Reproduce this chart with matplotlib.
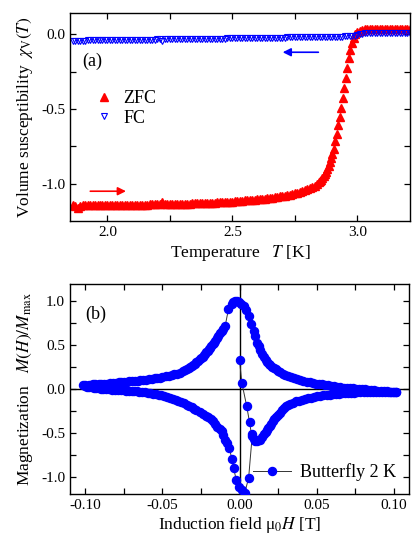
import numpy as np
import matplotlib
matplotlib.use('Agg')
import matplotlib.pyplot as plt
from matplotlib.ticker import FormatStrFormatter

plt.rcParams['font.family'] = ['Liberation Serif', 'DejaVu Serif']
plt.rcParams['mathtext.fontset'] = 'stix'
plt.rcParams['axes.unicode_minus'] = False

# ---- panel (a): susceptibility vs temperature ----
T_zfc = [1.86, 1.87, 1.88, 1.89, 1.90, 1.91, 1.92, 1.93, 1.94, 1.95,
         1.96, 1.97, 1.98, 1.99, 2.00, 2.01, 2.02, 2.03, 2.04, 2.05,
         2.06, 2.07, 2.08, 2.09, 2.10, 2.11, 2.12, 2.13, 2.14, 2.15,
         2.16, 2.17, 2.18, 2.19, 2.20, 2.21, 2.22, 2.23, 2.24, 2.25,
         2.26, 2.27, 2.28, 2.29, 2.30, 2.31, 2.32, 2.33, 2.34, 2.35,
         2.36, 2.37, 2.38, 2.39, 2.40, 2.41, 2.42, 2.43, 2.44, 2.45,
         2.46, 2.47, 2.48, 2.49, 2.50, 2.51, 2.52, 2.53, 2.54, 2.55,
         2.56, 2.57, 2.58, 2.59, 2.60, 2.61, 2.62, 2.63, 2.64, 2.65,
         2.66, 2.67, 2.68, 2.69, 2.70, 2.71, 2.72, 2.73, 2.74, 2.75,
         2.76, 2.77, 2.78, 2.79, 2.80, 2.81, 2.82, 2.83, 2.84, 2.845,
         2.85, 2.855, 2.86, 2.865, 2.87, 2.875, 2.88, 2.885, 2.89, 2.895,
         2.90, 2.905, 2.912, 2.918, 2.924, 2.930, 2.936, 2.942, 2.948, 2.954,
         2.960, 2.966, 2.972, 2.978, 2.985, 2.992, 3.00, 3.01, 3.02, 3.03,
         3.04, 3.05, 3.06, 3.07, 3.08, 3.09, 3.10, 3.11, 3.12, 3.13,
         3.14, 3.15, 3.16, 3.17, 3.18, 3.19, 3.20, 3.21]
chi_zfc = [-1.145, -1.150, -1.160, -1.150, -1.145, -1.140, -1.140, -1.140, -1.140, -1.140,
           -1.140, -1.140, -1.140, -1.140, -1.140, -1.140, -1.140, -1.140, -1.140, -1.140,
           -1.140, -1.140, -1.140, -1.140, -1.140, -1.140, -1.140, -1.140, -1.139, -1.139,
           -1.139, -1.138, -1.138, -1.138, -1.138, -1.138, -1.125, -1.136, -1.136, -1.136,
           -1.135, -1.135, -1.135, -1.134, -1.134, -1.134, -1.133, -1.133, -1.132, -1.132,
           -1.131, -1.131, -1.130, -1.129, -1.129, -1.128, -1.127, -1.126, -1.125, -1.124,
           -1.123, -1.122, -1.121, -1.120, -1.119, -1.118, -1.117, -1.115, -1.114, -1.112,
           -1.111, -1.109, -1.108, -1.106, -1.105, -1.103, -1.101, -1.099, -1.097, -1.095,
           -1.093, -1.091, -1.088, -1.085, -1.082, -1.079, -1.076, -1.073, -1.069, -1.065,
           -1.060, -1.055, -1.050, -1.044, -1.038, -1.030, -1.022, -1.012, -1.000, -0.990,
           -0.982, -0.975, -0.963, -0.950, -0.936, -0.920, -0.901, -0.880, -0.856, -0.830,
           -0.800, -0.770, -0.715, -0.665, -0.610, -0.550, -0.490, -0.425, -0.360, -0.290,
           -0.225, -0.160, -0.105, -0.060, -0.025, 0.000, 0.015, 0.025, 0.032, 0.035,
           0.036, 0.036, 0.036, 0.036, 0.036, 0.036, 0.036, 0.036, 0.036, 0.036,
           0.036, 0.036, 0.036, 0.036, 0.036, 0.036, 0.036, 0.036]

T_fc = [1.86, 1.87, 1.88, 1.89, 1.90, 1.91, 1.92, 1.93, 1.94, 1.95,
        1.96, 1.97, 1.98, 1.99, 2.00, 2.01, 2.02, 2.03, 2.04, 2.05,
        2.06, 2.07, 2.08, 2.09, 2.10, 2.11, 2.12, 2.13, 2.14, 2.15,
        2.16, 2.17, 2.18, 2.19, 2.20, 2.21, 2.22, 2.23, 2.24, 2.25,
        2.26, 2.27, 2.28, 2.29, 2.30, 2.31, 2.32, 2.33, 2.34, 2.35,
        2.36, 2.37, 2.38, 2.39, 2.40, 2.41, 2.42, 2.43, 2.44, 2.45,
        2.46, 2.47, 2.48, 2.49, 2.50, 2.51, 2.52, 2.53, 2.54, 2.55,
        2.56, 2.57, 2.58, 2.59, 2.60, 2.61, 2.62, 2.63, 2.64, 2.65,
        2.66, 2.67, 2.68, 2.69, 2.70, 2.71, 2.72, 2.73, 2.74, 2.75,
        2.76, 2.77, 2.78, 2.79, 2.80, 2.81, 2.82, 2.83, 2.84, 2.85,
        2.86, 2.87, 2.88, 2.89, 2.90, 2.91, 2.92, 2.93, 2.94, 2.95,
        2.96, 2.97, 2.98, 2.99, 3.00, 3.01, 3.02, 3.03, 3.04, 3.05,
        3.06, 3.07, 3.08, 3.09, 3.10, 3.11, 3.12, 3.13, 3.14, 3.15,
        3.16, 3.17, 3.18, 3.19, 3.20, 3.21]
chi_fc = [-0.043, -0.043, -0.042, -0.042, -0.042, -0.042, -0.041, -0.041, -0.041, -0.041,
          -0.040, -0.040, -0.040, -0.040, -0.039, -0.039, -0.039, -0.039, -0.038, -0.038,
          -0.038, -0.038, -0.037, -0.037, -0.037, -0.037, -0.036, -0.036, -0.036, -0.036,
          -0.035, -0.035, -0.035, -0.035, -0.034, -0.034, -0.048, -0.034, -0.033, -0.033,
          -0.033, -0.033, -0.032, -0.032, -0.032, -0.032, -0.031, -0.031, -0.031, -0.031,
          -0.030, -0.030, -0.030, -0.030, -0.029, -0.029, -0.029, -0.029, -0.028, -0.028,
          -0.028, -0.028, -0.027, -0.027, -0.027, -0.027, -0.026, -0.026, -0.026, -0.026,
          -0.025, -0.025, -0.025, -0.025, -0.024, -0.024, -0.024, -0.024, -0.023, -0.023,
          -0.023, -0.023, -0.022, -0.022, -0.022, -0.022, -0.021, -0.021, -0.021, -0.021,
          -0.020, -0.020, -0.020, -0.020, -0.019, -0.019, -0.019, -0.019, -0.018, -0.018,
          -0.018, -0.018, -0.017, -0.017, -0.017, -0.016, -0.016, -0.015, -0.015, -0.014,
          -0.013, -0.012, -0.010, -0.008, -0.005, -0.001, 0.003, 0.006, 0.008, 0.008,
          0.008, 0.008, 0.008, 0.008, 0.008, 0.008, 0.008, 0.008, 0.008, 0.008,
          0.008, 0.008, 0.008, 0.008, 0.008, 0.008]

# ---- panel (b): butterfly loop, branches in measurement order ----
H_virgin = [0.0000, 0.0015, 0.0046, 0.0065, 0.0078, 0.0092]
M_virgin = [0.33, 0.07, -0.19, -0.38, -0.52, -0.57]

H_low_right = [0.0102, 0.0115, 0.0130, 0.0145, 0.0160, 0.0170, 0.0178, 0.0187, 0.0195, 0.0205,
               0.0215, 0.0225, 0.0235, 0.0247, 0.0260, 0.0273, 0.0286, 0.0300, 0.0315, 0.0330,
               0.0345, 0.0365, 0.0385, 0.0405, 0.0425, 0.0445, 0.0465, 0.0485, 0.0505, 0.0525,
               0.0545, 0.0565, 0.0585, 0.0605, 0.0625, 0.0645, 0.0665, 0.0685, 0.0705, 0.0725,
               0.0745, 0.0765, 0.0785, 0.0805, 0.0825, 0.0845, 0.0865, 0.0885, 0.0905, 0.0925,
               0.0945, 0.0965, 0.0985, 0.1005, 0.1015]
M_low_right = [-0.59, -0.60, -0.58, -0.55, -0.51, -0.49, -0.47, -0.445, -0.42, -0.395,
               -0.37, -0.345, -0.32, -0.295, -0.27, -0.243, -0.215, -0.197, -0.18, -0.167,
               -0.155, -0.143, -0.133, -0.123, -0.114, -0.106, -0.098, -0.091, -0.085, -0.079,
               -0.074, -0.069, -0.064, -0.060, -0.057, -0.054, -0.051, -0.048, -0.046, -0.044,
               -0.042, -0.040, -0.039, -0.038, -0.037, -0.036, -0.036, -0.035, -0.035, -0.035,
               -0.035, -0.035, -0.035, -0.035, -0.034]

H_up_right = [0.1015, 0.0995, 0.0975, 0.0955, 0.0935, 0.0915, 0.0895, 0.0875, 0.0855, 0.0835,
              0.0815, 0.0795, 0.0775, 0.0755, 0.0735, 0.0715, 0.0695, 0.0675, 0.0655, 0.0635,
              0.0615, 0.0595, 0.0575, 0.0555, 0.0535, 0.0515, 0.0495, 0.0475, 0.0455, 0.0435,
              0.0415, 0.0395, 0.0375, 0.0355, 0.0335, 0.0315, 0.0295, 0.0280, 0.0265, 0.0250,
              0.0237, 0.0225, 0.0212, 0.0200, 0.0190, 0.0180, 0.0170, 0.0160, 0.0146, 0.0135,
              0.0124, 0.0113, 0.0100, 0.0091, 0.0073, 0.0059, 0.0042, 0.0026, 0.0012]
M_up_right = [-0.034, -0.032, -0.030, -0.028, -0.026, -0.023, -0.020, -0.017, -0.013, -0.009,
              -0.006, -0.002, 0.002, 0.005, 0.008, 0.010, 0.013, 0.016, 0.021, 0.026,
              0.031, 0.036, 0.042, 0.047, 0.052, 0.057, 0.062, 0.067, 0.074, 0.082,
              0.091, 0.100, 0.110, 0.121, 0.134, 0.147, 0.160, 0.175, 0.192, 0.210,
              0.225, 0.240, 0.255, 0.270, 0.290, 0.310, 0.335, 0.360, 0.400, 0.450,
              0.490, 0.530, 0.600, 0.660, 0.740, 0.830, 0.900, 0.950, 0.970]

H_up_left = [-0.0005, -0.0017, -0.0030, -0.0040, -0.0052, -0.0072, -0.0093, -0.0104, -0.0115, -0.0126,
             -0.0137, -0.0148, -0.0158, -0.0166, -0.0174, -0.0182, -0.0190, -0.0198, -0.0206, -0.0215,
             -0.0223, -0.0232, -0.0240, -0.0248, -0.0256, -0.0268, -0.0280, -0.0290, -0.0300, -0.0310,
             -0.0320, -0.0330, -0.0340, -0.0355, -0.0370, -0.0388, -0.0407, -0.0425, -0.0440, -0.0460,
             -0.0480, -0.0500, -0.0516, -0.0535, -0.0550, -0.0570, -0.0590, -0.0610, -0.0625, -0.0645,
             -0.0660, -0.0680, -0.0695, -0.0715, -0.0730, -0.0750, -0.0770, -0.0785, -0.0800, -0.0820,
             -0.0840, -0.0860, -0.0880, -0.0900, -0.0915, -0.0935, -0.0950, -0.0965, -0.0980, -0.1000,
             -0.1015]
M_up_left = [0.99, 1.00, 1.00, 0.99, 0.97, 0.91, 0.72, 0.69, 0.66, 0.635,
             0.61, 0.58, 0.55, 0.53, 0.51, 0.49, 0.47, 0.452, 0.435, 0.417,
             0.40, 0.385, 0.37, 0.355, 0.34, 0.322, 0.305, 0.29, 0.275, 0.262,
             0.25, 0.237, 0.225, 0.212, 0.20, 0.187, 0.175, 0.167, 0.160, 0.151,
             0.143, 0.136, 0.130, 0.125, 0.120, 0.115, 0.110, 0.106, 0.103, 0.099,
             0.096, 0.093, 0.090, 0.087, 0.084, 0.080, 0.077, 0.074, 0.071, 0.068,
             0.064, 0.062, 0.060, 0.058, 0.056, 0.054, 0.052, 0.049, 0.046, 0.042,
             0.040]

H_low_left = [-0.1005, -0.0990, -0.0975, -0.0960, -0.0945, -0.0930, -0.0915, -0.0900, -0.0885, -0.0868,
              -0.0850, -0.0830, -0.0810, -0.0790, -0.0770, -0.0752, -0.0735, -0.0718, -0.0700, -0.0684,
              -0.0668, -0.0650, -0.0630, -0.0612, -0.0595, -0.0578, -0.0560, -0.0542, -0.0525, -0.0508,
              -0.0490, -0.0470, -0.0450, -0.0432, -0.0415, -0.0398, -0.0380, -0.0360, -0.0340, -0.0325,
              -0.0310, -0.0295, -0.0280, -0.0257, -0.0234, -0.0220, -0.0205, -0.0188, -0.0170, -0.0157,
              -0.0143, -0.0129, -0.0115, -0.0104, -0.0093, -0.0082, -0.0065, -0.0050, -0.0039, -0.0021,
              -0.0006, 0.0015, 0.0033, 0.0059, 0.0082]
M_low_left = [0.032, 0.028, 0.024, 0.020, 0.015, 0.011, 0.008, 0.004, 0.000, -0.003,
              -0.005, -0.008, -0.010, -0.013, -0.015, -0.017, -0.019, -0.021, -0.023, -0.025,
              -0.027, -0.031, -0.035, -0.039, -0.043, -0.048, -0.054, -0.060, -0.067, -0.074,
              -0.081, -0.090, -0.100, -0.112, -0.125, -0.137, -0.150, -0.165, -0.180, -0.195,
              -0.210, -0.225, -0.240, -0.262, -0.285, -0.305, -0.325, -0.347, -0.370, -0.400,
              -0.430, -0.457, -0.485, -0.530, -0.580, -0.620, -0.680, -0.800, -0.900, -1.040,
              -1.120, -1.150, -1.190, -1.020, -0.540]

H_loop = np.concatenate([H_virgin, H_low_right, H_up_right, H_up_left, H_low_left])
M_loop = np.concatenate([M_virgin, M_low_right, M_up_right, M_up_left, M_low_left])

fig = plt.figure(figsize=(4.18, 5.5), dpi=100)
ax1 = fig.add_axes([0.1675, 0.598, 0.813, 0.379])
ax2 = fig.add_axes([0.1675, 0.1018, 0.811, 0.382])

# panel (a)
ax1.plot(T_zfc, chi_zfc, '^', color='red', ms=5.5, mec='red', label='ZFC')
ax1.plot(T_fc, chi_fc, 'v', color='blue', ms=5, mfc='none', mec='blue', mew=0.8,
         label='FC')
ax1.annotate('', xy=(2.69, -0.12), xytext=(2.855, -0.12),
             arrowprops=dict(arrowstyle='-|>', color='blue', lw=1.2,
                             mutation_scale=12))
ax1.annotate('', xy=(2.085, -1.05), xytext=(1.92, -1.05),
             arrowprops=dict(arrowstyle='-|>', color='red', lw=1.2,
                             mutation_scale=12))
ax1.text(0.035, 0.765, '(a)', transform=ax1.transAxes, fontsize=13, va='center')
ax1.legend(loc='upper left', bbox_to_anchor=(0.035, 0.69), frameon=False,
           fontsize=13, handlelength=1.0, handletextpad=0.6, labelspacing=0.15,
           borderpad=0.2)
ax1.set_xlim(1.85, 3.21)
ax1.set_ylim(-1.25, 0.145)
ax1.set_xticks([2.0, 2.5, 3.0])
ax1.set_xticks([2.25, 2.75], minor=True)
ax1.set_yticks([-1.0, -0.5, 0.0])
ax1.set_yticks([-0.75, -0.25], minor=True)
ax1.set_xlabel('Temperature   $T$ [K]', fontsize=12.5, labelpad=3)
ax1.set_ylabel(r'Volume susceptibility  $\chi_\mathrm{V}(T)$', fontsize=12.5,
               labelpad=4)

# panel (b)
ax2.axhline(0, color='black', lw=1)
ax2.axvline(0, color='black', lw=1)
ax2.plot(H_loop, M_loop, '-', color='#333333', lw=0.7, zorder=2)
ax2.plot(H_loop, M_loop, 'o', color='blue', ms=5.8, mec='blue', zorder=3)
ax2.plot([], [], '-o', color='#333333', lw=0.7, mfc='blue', mec='blue', ms=5.8,
         label='Butterfly 2 K')
ax2.text(0.044, 0.857, '(b)', transform=ax2.transAxes, fontsize=13, va='center')
ax2.legend(loc='lower right', bbox_to_anchor=(1.0, 0.0), frameon=False,
           fontsize=13, handlelength=2.1, handletextpad=0.5, borderpad=0.2)
ax2.set_xlim(-0.11, 0.11)
ax2.set_ylim(-1.2, 1.2)
ax2.set_xticks([-0.10, -0.05, 0.00, 0.05, 0.10])
ax2.set_xticks([-0.075, -0.025, 0.025, 0.075], minor=True)
ax2.set_yticks([-1.0, -0.5, 0.0, 0.5, 1.0])
ax2.set_yticks([-0.75, -0.25, 0.25, 0.75], minor=True)
ax2.set_xlabel('Induction field μ$_0$$H$ [T]', fontsize=12.5, labelpad=2)
ax2.set_ylabel('Magnetization   $M(H)/M_\\mathrm{max}$', fontsize=12.5, labelpad=4)

for ax in (ax1, ax2):
    ax.tick_params(which='both', direction='in', top=True, right=True,
                   length=4, width=0.9, labelsize=11)
    for s in ax.spines.values():
        s.set_linewidth(1)
    ax.yaxis.set_major_formatter(FormatStrFormatter('%.1f'))
ax1.xaxis.set_major_formatter(FormatStrFormatter('%.1f'))
ax2.xaxis.set_major_formatter(FormatStrFormatter('%.2f'))

fig.savefig('out.png', dpi=100)
